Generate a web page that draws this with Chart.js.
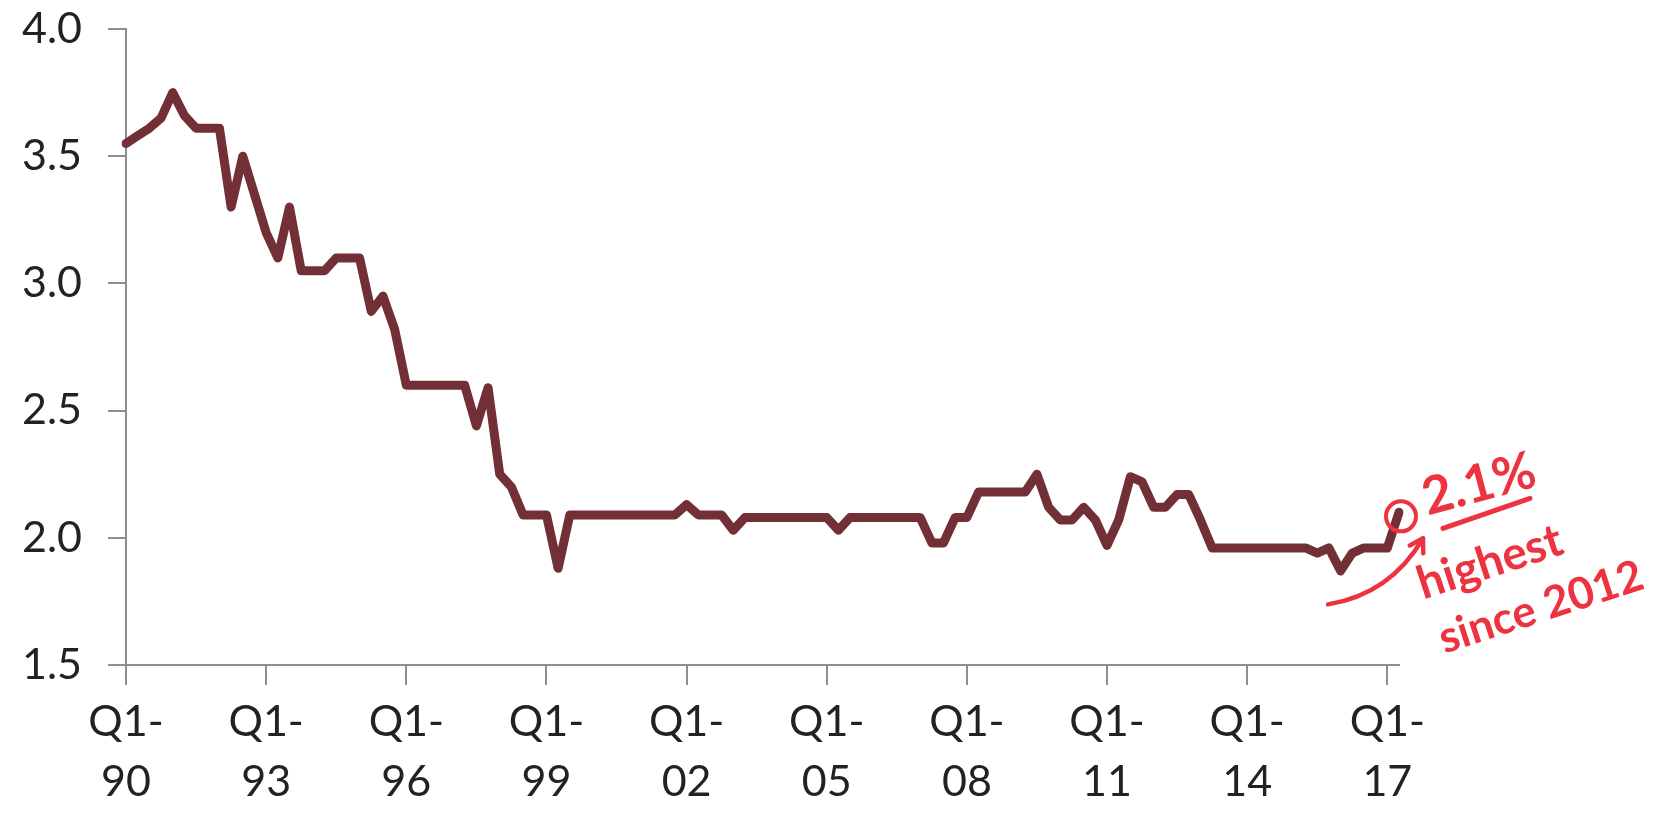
<!DOCTYPE html>
<html>
<head>
<meta charset="utf-8">
<script src="https://cdn.jsdelivr.net/npm/chart.js@4.4.1/dist/chart.umd.min.js"></script>
<style>
  html, body { margin: 0; padding: 0; background: #ffffff; }
  #wrap { width: 1659px; height: 821px; position: relative; }
</style>
</head>
<body>
<div id="wrap"><canvas id="chart"></canvas></div>
<script>
// Quarterly categories, Q1-90 through Q2-17
const firstYear = 1990;
const quarterCount = 110;
const quarters = [];
for (let i = 0; i < quarterCount; i++) {
  const yr = firstYear + Math.floor(i / 4);
  quarters.push('Q' + (i % 4 + 1) + '-' + String(yr % 100).padStart(2, '0'));
}

// Series values, one per quarter
const rateValues = [
  3.55, 3.58, 3.61, 3.65, 3.75, 3.66, 3.61, 3.61, 3.61, 3.30,
  3.50, 3.35, 3.20, 3.10, 3.30, 3.05, 3.05, 3.05, 3.10, 3.10,
  3.10, 2.89, 2.95, 2.82, 2.60, 2.60, 2.60, 2.60, 2.60, 2.60,
  2.44, 2.59, 2.25, 2.20, 2.09, 2.09, 2.09, 1.88, 2.09, 2.09,
  2.09, 2.09, 2.09, 2.09, 2.09, 2.09, 2.09, 2.09, 2.13, 2.09,
  2.09, 2.09, 2.03, 2.08, 2.08, 2.08, 2.08, 2.08, 2.08, 2.08,
  2.08, 2.03, 2.08, 2.08, 2.08, 2.08, 2.08, 2.08, 2.08, 1.98,
  1.98, 2.08, 2.08, 2.18, 2.18, 2.18, 2.18, 2.18, 2.25, 2.12,
  2.07, 2.07, 2.12, 2.07, 1.97, 2.07, 2.24, 2.22, 2.12, 2.12,
  2.17, 2.17, 2.07, 1.96, 1.96, 1.96, 1.96, 1.96, 1.96, 1.96,
  1.96, 1.96, 1.94, 1.96, 1.87, 1.94, 1.96, 1.96, 1.96, 2.10
];

// Axis ticks
const yTicks = [1.5, 2.0, 2.5, 3.0, 3.5, 4.0];
const labelEvery = 12;

// Handwritten note beside the latest quarter
const noteLines = ['2.1%', 'highest', 'since 2012'];

const axisGray = '#8e8e8e';
const lineColor = '#723036';
const markerRed = '#ee3340';
const textColor = '#222222';

Chart.defaults.font.family = 'Lato, "Open Sans", sans-serif';

const handNote = {
  id: 'handNote',
  afterDatasetsDraw(chart) {
    const meta = chart.getDatasetMeta(0);
    const last = meta.data[meta.data.length - 1];
    const px = last.x, py = last.y;
    const ctx = chart.ctx;
    ctx.save();
    ctx.strokeStyle = markerRed;
    ctx.fillStyle = markerRed;
    ctx.lineCap = 'round';
    ctx.lineJoin = 'round';

    // ring round the latest point
    ctx.lineWidth = 4;
    ctx.beginPath();
    ctx.ellipse(px + 2, py + 4, 15, 15, 0, 0, Math.PI * 2);
    ctx.stroke();

    // curved arrow pointing at the ring
    const sx = px - 71, sy = py + 92;
    const cx = px - 9, cy = py + 82;
    const ex = px + 24, ey = py + 26;
    ctx.lineWidth = 4.5;
    ctx.beginPath();
    ctx.moveTo(sx, sy);
    ctx.quadraticCurveTo(cx, cy, ex, ey);
    ctx.stroke();
    const ang = Math.atan2(ey - cy, ex - cx);
    const head = 15;
    ctx.beginPath();
    ctx.moveTo(ex - head * Math.cos(ang - 0.55), ey - head * Math.sin(ang - 0.55));
    ctx.lineTo(ex, ey);
    ctx.lineTo(ex - head * Math.cos(ang + 0.55), ey - head * Math.sin(ang + 0.55));
    ctx.stroke();

    const rotText = (txt, x, y, deg, font) => {
      ctx.save();
      ctx.translate(x, y);
      ctx.rotate(deg * Math.PI / 180);
      ctx.font = font;
      ctx.textAlign = 'center';
      ctx.textBaseline = 'middle';
      ctx.fillText(txt, 0, 0);
      ctx.restore();
    };
    rotText(noteLines[0], px + 80, py - 28, -15, 'bold 52px Lato, sans-serif');

    // underline beneath the value
    ctx.lineWidth = 5;
    ctx.beginPath();
    ctx.moveTo(px + 44, py + 16);
    ctx.lineTo(px + 131, py - 14);
    ctx.stroke();

    rotText(noteLines[1], px + 91, py + 50, -18, 'bold 46px Lato, sans-serif');
    rotText(noteLines[2], px + 142, py + 95, -18, 'bold 44px Lato, sans-serif');
    ctx.restore();
  }
};

new Chart(document.getElementById('chart'), {
  type: 'line',
  data: {
    labels: quarters,
    datasets: [{
      data: rateValues,
      borderColor: lineColor,
      borderWidth: 9,
      borderJoinStyle: 'round',
      borderCapStyle: 'round',
      pointRadius: 0,
      tension: 0,
      fill: false
    }]
  },
  options: {
    responsive: true,
    maintainAspectRatio: false,
    animation: false,
    layout: { padding: { left: 0, top: 29, right: 260, bottom: 0 } },
    plugins: { legend: { display: false }, tooltip: { enabled: false } },
    scales: {
      x: {
        type: 'category',
        offset: false,
        grid: {
          drawOnChartArea: false,
          drawTicks: true,
          tickLength: 20,
          lineWidth: 2,
          color: (c) => (c.index % labelEvery === 0 ? axisGray : 'rgba(0,0,0,0)')
        },
        border: { color: axisGray, width: 2 },
        ticks: {
          autoSkip: false,
          maxRotation: 0,
          minRotation: 0,
          padding: 7,
          color: textColor,
          font: { size: 43, lineHeight: 1.4 },
          callback: (v, i) => {
            if (i % labelEvery !== 0) return '';
            const parts = quarters[i].split('-');
            return [parts[0] + '-', parts[1]];
          }
        },
        afterFit: (s) => { s.height = 156; }
      },
      y: {
        min: 1.5,
        max: 4.0,
        grid: {
          drawOnChartArea: false,
          drawTicks: true,
          tickLength: 18,
          lineWidth: 2,
          color: axisGray
        },
        border: { color: axisGray, width: 2 },
        afterBuildTicks: (s) => { s.ticks = yTicks.map(v => ({ value: v })); },
        ticks: {
          padding: 26,
          color: textColor,
          font: { size: 43 },
          callback: (v) => Number(v).toFixed(1)
        },
        afterFit: (s) => {
          s.width = 126;
          s.paddingTop = 0;
          s.paddingBottom = 0;
        }
      }
    }
  },
  plugins: [handNote]
});
</script>
</body>
</html>
